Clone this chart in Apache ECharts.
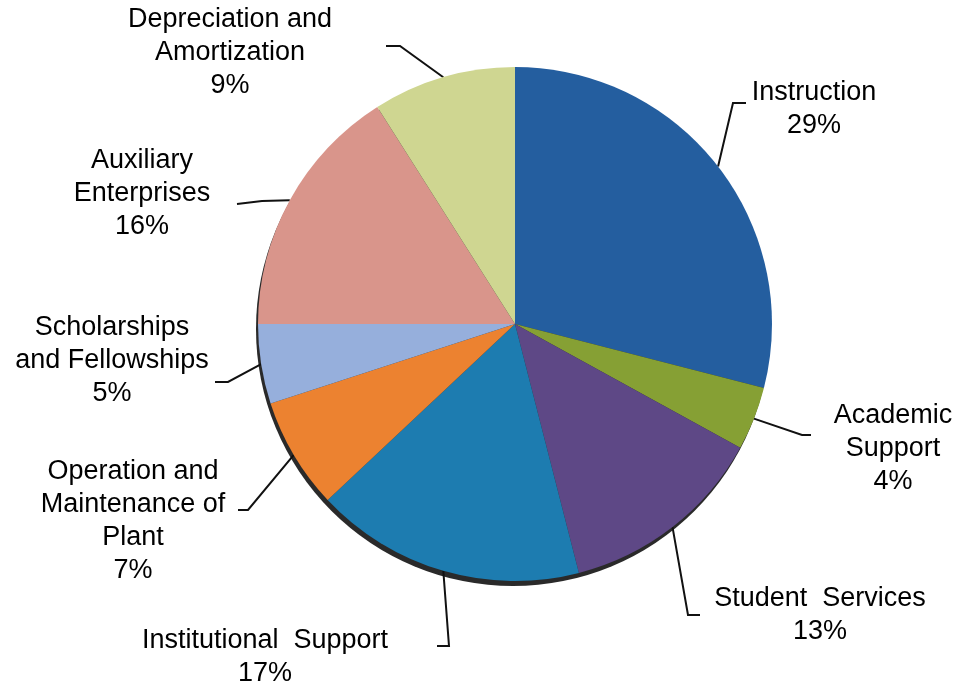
<!DOCTYPE html>
<html>
<head>
<meta charset="utf-8">
<script src="https://cdn.jsdelivr.net/npm/echarts@6/dist/echarts.min.js"></script>
<style>html,body{margin:0;padding:0;background:#fff}#c{width:961px;height:690px}</style>
</head>
<body>
<div id="c"></div>
<script>
// Data
const categories = ["Instruction", "Academic Support", "Student Services", "Institutional Support",
  "Operation and Maintenance of Plant", "Scholarships and Fellowships", "Auxiliary Enterprises", "Depreciation and Amortization"];
const labelTexts = ["Instruction", "Academic\nSupport", "Student  Services", "Institutional  Support",
  "Operation and\nMaintenance of\nPlant", "Scholarships\nand Fellowships", "Auxiliary\nEnterprises", "Depreciation and\nAmortization"];
const values = [29, 4, 13, 17, 7, 5, 16, 9];

// Styles
const colors = ["#245e9f", "#86a034", "#5e4886", "#1d7cb0", "#ec8230", "#96afdc", "#d9958b", "#cfd691"];
// label centre positions and leader-line [elbow, end] points
const labelPos = [[814, 109], [893, 449], [820, 615], [265, 657], [133, 521], [112, 361], [142, 194], [230, 53]];
const linePts = [
  [[733, 103], [746, 103]],
  [[802, 435], [811, 435]],
  [[688, 615], [700, 615]],
  [[449, 646], [437, 646]],
  [[248, 510], [238, 510]],
  [[228, 382], [215, 382]],
  [[262, 201], [237, 204]],
  [[400, 46], [386, 46]]
];

const chart = echarts.init(document.getElementById('c'));
const pieData = categories.map((c, i) => ({
  name: c, value: values[i], itemStyle: { color: colors[i] },
  label: { formatter: labelTexts[i] + '\n' + values[i] + '%' }
}));

chart.setOption({
  animation: false,
  backgroundColor: '#ffffff',
  series: [
    {
      type: 'pie', silent: true, center: [513, 329], radius: 257,
      data: [{ value: 1, itemStyle: { color: '#2a2a2a' } }],
      label: { show: false }, labelLine: { show: false }, z: 1
    },
    {
      type: 'pie', center: [515, 324], radius: 257, startAngle: 90, clockwise: true,
      data: pieData, z: 2,
      itemStyle: { borderWidth: 0 },
      label: {
        show: true, position: 'outside', color: '#000', fontFamily: 'Liberation Sans, Arial',
        fontSize: 27, lineHeight: 33, align: 'center', verticalAlign: 'middle'
      },
      labelLine: { show: true, lineStyle: { color: '#111', width: 2 } },
      labelLayout: function (p) {
        const i = p.dataIndex;
        const s = p.labelLinePoints ? p.labelLinePoints[0] : null;
        const out = {
          x: labelPos[i][0], y: labelPos[i][1], align: 'center', verticalAlign: 'middle'
        };
        if (s) out.labelLinePoints = [s, linePts[i][0], linePts[i][1]];
        return out;
      }
    }
  ]
});
</script>
</body>
</html>
